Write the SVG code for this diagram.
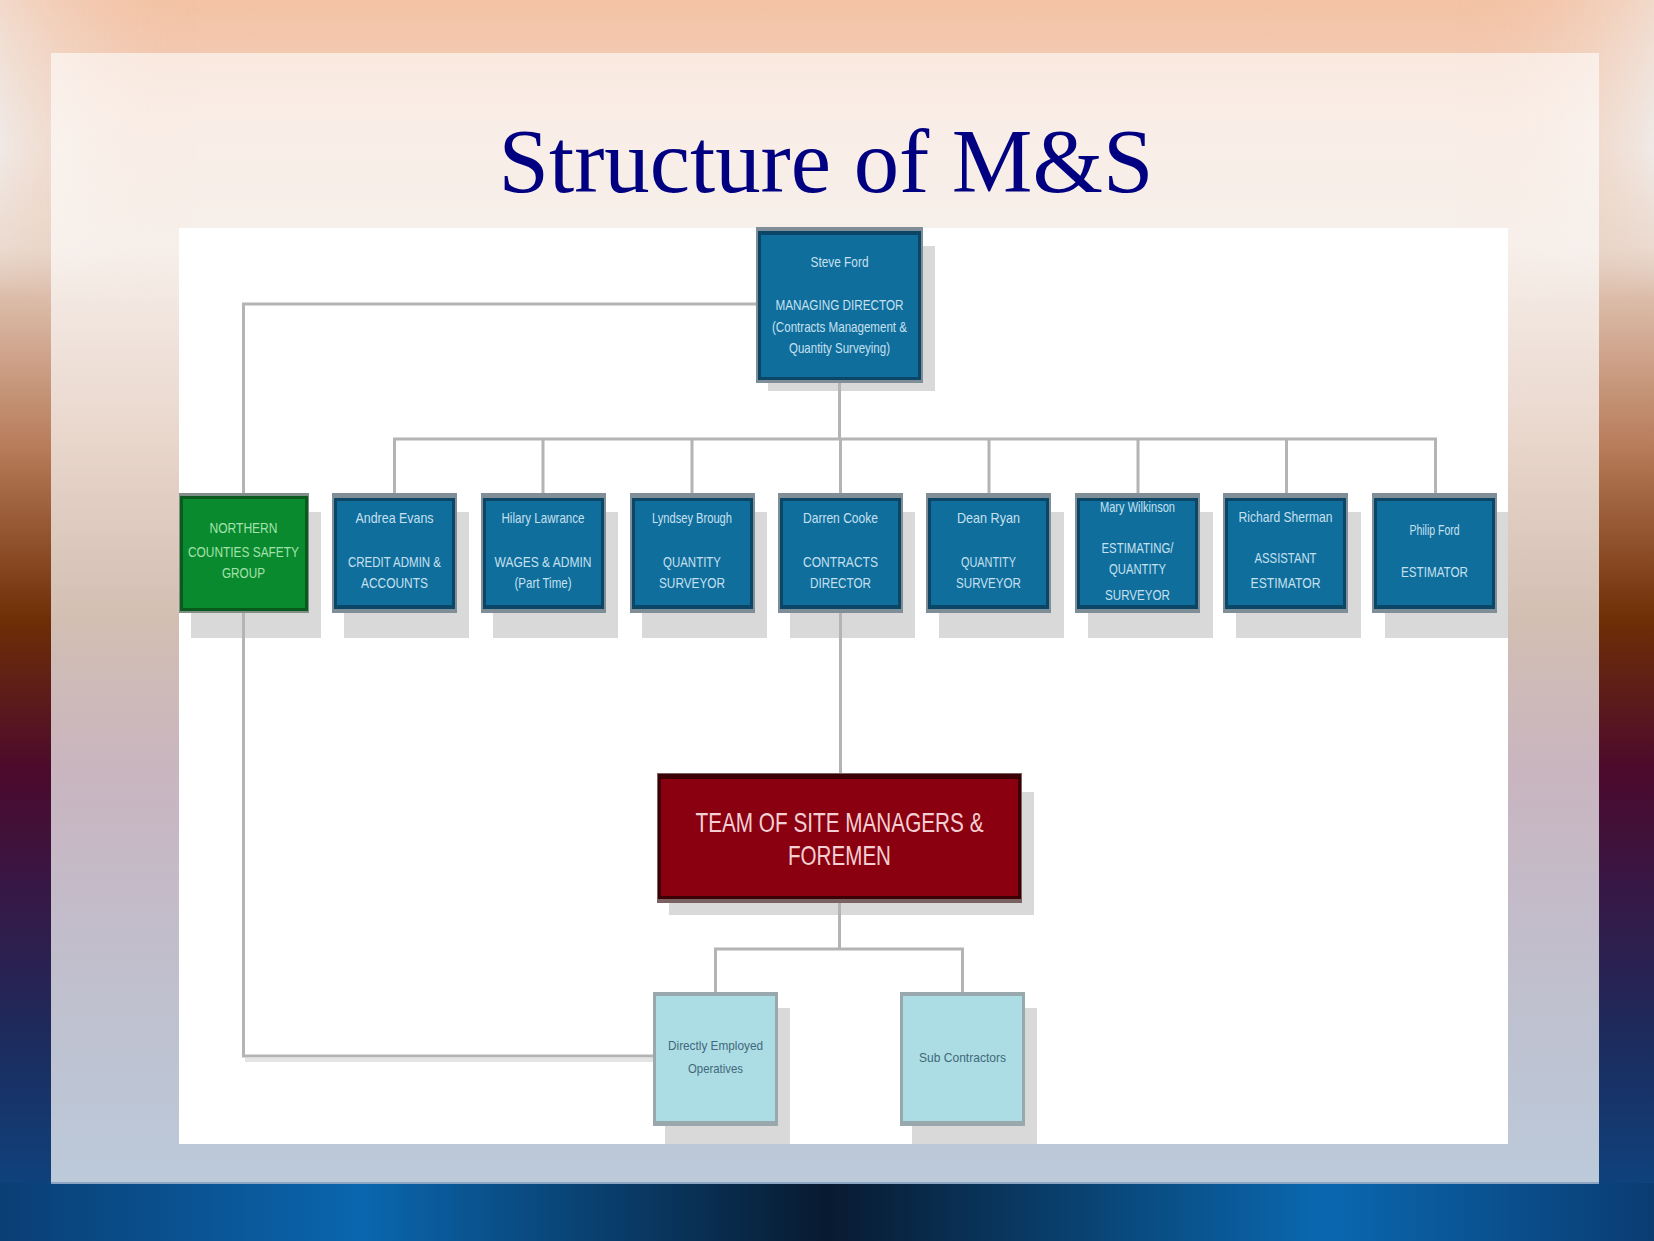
<svg xmlns="http://www.w3.org/2000/svg" width="1654" height="1241" viewBox="0 0 1654 1241">
<defs>
<linearGradient id="bg" x1="0" y1="0" x2="0" y2="1">
<stop offset="0" stop-color="#f4c2a4"/>
<stop offset="0.1" stop-color="#f0d2c0"/>
<stop offset="0.2" stop-color="#e8d2c4"/>
<stop offset="0.36" stop-color="#b87c5a"/>
<stop offset="0.5" stop-color="#6e2e06"/>
<stop offset="0.62" stop-color="#4c0a2c"/>
<stop offset="0.72" stop-color="#361846"/>
<stop offset="0.84" stop-color="#1c2c5e"/>
<stop offset="1" stop-color="#0a4a88"/>
</linearGradient>
<linearGradient id="bottomband" x1="0" y1="0" x2="1" y2="0">
<stop offset="0" stop-color="#0a3e74"/>
<stop offset="0.22" stop-color="#0a66ae"/>
<stop offset="0.5" stop-color="#081a30"/>
<stop offset="0.8" stop-color="#0a68b0"/>
<stop offset="1" stop-color="#0a3c72"/>
</linearGradient>
<linearGradient id="topglow" x1="0" y1="0" x2="1" y2="0">
<stop offset="0" stop-color="#f0ecea" stop-opacity="0.9"/>
<stop offset="0.12" stop-color="#f4c4a6" stop-opacity="0"/>
<stop offset="0.88" stop-color="#f4c4a6" stop-opacity="0"/>
<stop offset="1" stop-color="#f0ecea" stop-opacity="0.9"/>
</linearGradient>
<linearGradient id="fadeV" x1="0" y1="0" x2="0" y2="1">
<stop offset="0" stop-color="#ffffff" stop-opacity="0.6"/>
<stop offset="0.5" stop-color="#ffffff" stop-opacity="1"/>
<stop offset="1" stop-color="#ffffff" stop-opacity="0"/>
</linearGradient>
<mask id="glowMask" maskUnits="userSpaceOnUse" x="0" y="0" width="1654" height="300">
<rect x="0" y="0" width="1654" height="300" fill="url(#fadeV)"/>
</mask>
<linearGradient id="panel" x1="0" y1="0" x2="0" y2="1">
<stop offset="0" stop-color="#ffffff" stop-opacity="0.6"/>
<stop offset="0.3" stop-color="#ffffff" stop-opacity="0.68"/>
<stop offset="1" stop-color="#ffffff" stop-opacity="0.72"/>
</linearGradient>
<style>
.conn{fill:none;stroke:#b4b4b4;stroke-width:3}
.shadow{fill:#d9d9d9}
.frameB{fill:#7f8e97}
.edgeB{fill:#0b4666}
.fillB{fill:#0f6e9c}
.tB{fill:#c6e0f0;font-family:"Liberation Sans",Arial,sans-serif;font-size:15px;text-anchor:middle}
.tG{fill:#a4e2ac;font-family:"Liberation Sans",Arial,sans-serif;font-size:15px;text-anchor:middle}
.tR{fill:#f4cfd3;font-family:"Liberation Sans",Arial,sans-serif;font-size:28px;text-anchor:middle}
.tL{fill:#43687a;font-family:"Liberation Sans",Arial,sans-serif;font-size:13px;text-anchor:middle}
.title{fill:#000080;font-family:"Liberation Serif","Times New Roman",serif;font-size:90px;text-anchor:middle}
</style>
</defs>

<!-- background -->
<rect x="0" y="0" width="1654" height="1241" fill="url(#bg)"/>
<rect x="0" y="0" width="1654" height="300" fill="url(#topglow)" mask="url(#glowMask)"/>
<rect x="0" y="1183" width="1654" height="58" fill="url(#bottomband)"/>
<rect x="51" y="53" width="1548" height="1130" fill="url(#panel)"/>
<line x1="51" y1="1183" x2="1599" y2="1183" stroke="#8aa4c4" stroke-width="2"/>

<text class="title" x="826" y="192" textLength="655" lengthAdjust="spacingAndGlyphs">Structure of M&amp;S</text>

<!-- chart canvas -->
<rect x="179" y="228" width="1329" height="916" fill="#ffffff"/>

<!-- shadows -->
<g id="shadows">
<rect class="shadow" x="768" y="246" width="167" height="145"/>
<rect class="shadow" x="191" y="512" width="130" height="126"/>
<rect class="shadow" x="344" y="512" width="125" height="126"/>
<rect class="shadow" x="493" y="512" width="125" height="126"/>
<rect class="shadow" x="642" y="512" width="125" height="126"/>
<rect class="shadow" x="790" y="512" width="125" height="126"/>
<rect class="shadow" x="939" y="512" width="125" height="126"/>
<rect class="shadow" x="1088" y="512" width="125" height="126"/>
<rect class="shadow" x="1236" y="512" width="125" height="126"/>
<rect class="shadow" x="1385" y="512" width="123" height="126"/>
<rect class="shadow" x="669" y="792" width="365" height="123"/>
<rect class="shadow" x="665" y="1008" width="125" height="136"/>
<rect class="shadow" x="912" y="1008" width="125" height="136"/>
</g>

<!-- connectors -->
<g id="connectors">
<path class="conn" d="M839.5 383 V439"/>
<path class="conn" d="M394.5 493 V439 H1435.5 V493"/>
<path class="conn" d="M543 439 V493 M692 439 V493 M840.5 439 V493 M989 439 V493 M1138 439 V493 M1286.5 439 V493"/>
<path class="conn" d="M756 304 H243.5 V493"/>
<path class="conn" d="M243.5 613 V1056 H653"/>
<path d="M245 1060 H653" stroke="#e4e4e4" stroke-width="4" fill="none"/>
<path class="conn" d="M840.5 613 V773"/>
<path class="conn" d="M839.5 903 V949 M715.5 992 V949 H962.5 V992"/>
</g>

<!-- top node -->
<g id="node-managing-director">
<rect class="frameB" x="756" y="227" width="167" height="156"/>
<rect class="edgeB" x="758" y="231" width="163" height="149"/>
<rect class="fillB" x="761" y="235" width="157" height="142"/>
<text class="tB" x="839.5" y="267" textLength="58" lengthAdjust="spacingAndGlyphs">Steve Ford</text>
<text class="tB" x="839.5" y="310" textLength="128" lengthAdjust="spacingAndGlyphs">MANAGING DIRECTOR</text>
<text class="tB" x="839.5" y="332" textLength="135" lengthAdjust="spacingAndGlyphs">(Contracts Management &amp;</text>
<text class="tB" x="839.5" y="353" textLength="101" lengthAdjust="spacingAndGlyphs">Quantity Surveying)</text>
</g>

<!-- green node -->
<g id="node-safety-group">
<rect x="179" y="493" width="130" height="120" fill="#7f8f88"/>
<rect x="180" y="496" width="128" height="115" fill="#0a5a1e"/>
<rect x="183" y="499" width="122" height="109" fill="#0a8a2e"/>
<text class="tG" x="243.5" y="533" textLength="68" lengthAdjust="spacingAndGlyphs">NORTHERN</text>
<text class="tG" x="243.5" y="557" textLength="111" lengthAdjust="spacingAndGlyphs">COUNTIES SAFETY</text>
<text class="tG" x="243.5" y="578" textLength="43" lengthAdjust="spacingAndGlyphs">GROUP</text>
</g>

<g id="node-accounts">
<rect class="frameB" x="332" y="493" width="125" height="120"/>
<rect class="edgeB" x="334" y="498" width="121" height="111"/>
<rect class="fillB" x="337" y="501" width="115" height="104"/>
<text class="tB" x="394.5" y="523" textLength="78" lengthAdjust="spacingAndGlyphs">Andrea Evans</text>
<text class="tB" x="394.5" y="567" textLength="93" lengthAdjust="spacingAndGlyphs">CREDIT ADMIN &amp;</text>
<text class="tB" x="394.5" y="588" textLength="67" lengthAdjust="spacingAndGlyphs">ACCOUNTS</text>
</g>

<g id="node-wages">
<rect class="frameB" x="481" y="493" width="125" height="120"/>
<rect class="edgeB" x="483" y="498" width="121" height="111"/>
<rect class="fillB" x="486" y="501" width="115" height="104"/>
<text class="tB" x="543" y="523" textLength="83" lengthAdjust="spacingAndGlyphs">Hilary Lawrance</text>
<text class="tB" x="543" y="567" textLength="97" lengthAdjust="spacingAndGlyphs">WAGES &amp; ADMIN</text>
<text class="tB" x="543" y="588" textLength="57" lengthAdjust="spacingAndGlyphs">(Part Time)</text>
</g>

<g id="node-qs1">
<rect class="frameB" x="630" y="493" width="125" height="120"/>
<rect class="edgeB" x="632" y="498" width="121" height="111"/>
<rect class="fillB" x="635" y="501" width="115" height="104"/>
<text class="tB" x="692" y="523" textLength="80" lengthAdjust="spacingAndGlyphs">Lyndsey Brough</text>
<text class="tB" x="692" y="567" textLength="58" lengthAdjust="spacingAndGlyphs">QUANTITY</text>
<text class="tB" x="692" y="588" textLength="66" lengthAdjust="spacingAndGlyphs">SURVEYOR</text>
</g>

<g id="node-contracts-director">
<rect class="frameB" x="778" y="493" width="125" height="120"/>
<rect class="edgeB" x="780" y="498" width="121" height="111"/>
<rect class="fillB" x="783" y="501" width="115" height="104"/>
<text class="tB" x="840.5" y="523" textLength="75" lengthAdjust="spacingAndGlyphs">Darren Cooke</text>
<text class="tB" x="840.5" y="567" textLength="75" lengthAdjust="spacingAndGlyphs">CONTRACTS</text>
<text class="tB" x="840.5" y="588" textLength="61" lengthAdjust="spacingAndGlyphs">DIRECTOR</text>
</g>

<g id="node-qs2">
<rect class="frameB" x="926" y="493" width="125" height="120"/>
<rect class="edgeB" x="928" y="498" width="121" height="111"/>
<rect class="fillB" x="931" y="501" width="115" height="104"/>
<text class="tB" x="988.5" y="523" textLength="63" lengthAdjust="spacingAndGlyphs">Dean Ryan</text>
<text class="tB" x="988.5" y="567" textLength="55" lengthAdjust="spacingAndGlyphs">QUANTITY</text>
<text class="tB" x="988.5" y="588" textLength="65" lengthAdjust="spacingAndGlyphs">SURVEYOR</text>
</g>

<g id="node-estimating-qs">
<rect class="frameB" x="1075" y="493" width="125" height="120"/>
<rect class="edgeB" x="1077" y="498" width="121" height="111"/>
<rect class="fillB" x="1080" y="501" width="115" height="104"/>
<text class="tB" x="1137.5" y="512" textLength="75" lengthAdjust="spacingAndGlyphs">Mary Wilkinson</text>
<text class="tB" x="1137.5" y="553" textLength="72" lengthAdjust="spacingAndGlyphs">ESTIMATING/</text>
<text class="tB" x="1137.5" y="574" textLength="57" lengthAdjust="spacingAndGlyphs">QUANTITY</text>
<text class="tB" x="1137.5" y="600" textLength="65" lengthAdjust="spacingAndGlyphs">SURVEYOR</text>
</g>

<g id="node-assistant-estimator">
<rect class="frameB" x="1223" y="493" width="125" height="120"/>
<rect class="edgeB" x="1225" y="498" width="121" height="111"/>
<rect class="fillB" x="1228" y="501" width="115" height="104"/>
<text class="tB" x="1285.5" y="522" textLength="94" lengthAdjust="spacingAndGlyphs">Richard Sherman</text>
<text class="tB" x="1285.5" y="563" textLength="62" lengthAdjust="spacingAndGlyphs">ASSISTANT</text>
<text class="tB" x="1285.5" y="588" textLength="70" lengthAdjust="spacingAndGlyphs">ESTIMATOR</text>
</g>

<g id="node-estimator">
<rect class="frameB" x="1372" y="493" width="125" height="120"/>
<rect class="edgeB" x="1374" y="498" width="121" height="111"/>
<rect class="fillB" x="1377" y="501" width="115" height="104"/>
<text class="tB" x="1434.5" y="535" textLength="50" lengthAdjust="spacingAndGlyphs">Philip Ford</text>
<text class="tB" x="1434.5" y="577" textLength="67" lengthAdjust="spacingAndGlyphs">ESTIMATOR</text>
</g>

<!-- red node -->
<g id="node-site-managers">
<rect x="657" y="773" width="365" height="130" fill="#7a6262"/>
<rect x="658" y="774" width="363" height="125" fill="#3a0006"/>
<rect x="661" y="779" width="357" height="117" fill="#8a0010"/>
<text class="tR" x="839.5" y="832" textLength="288" lengthAdjust="spacingAndGlyphs">TEAM OF SITE MANAGERS &amp;</text>
<text class="tR" x="839.5" y="865" textLength="103" lengthAdjust="spacingAndGlyphs">FOREMEN</text>
</g>

<!-- light nodes -->
<g id="node-operatives">
<rect x="653" y="992" width="125" height="134" fill="#98a8ac"/>
<rect x="656" y="996" width="119" height="125" fill="#acdde4"/>
<text class="tL" x="715.5" y="1050" textLength="95" lengthAdjust="spacingAndGlyphs">Directly Employed</text>
<text class="tL" x="715.5" y="1073" textLength="55" lengthAdjust="spacingAndGlyphs">Operatives</text>
</g>

<g id="node-subcontractors">
<rect x="900" y="992" width="125" height="134" fill="#98a8ac"/>
<rect x="903" y="996" width="119" height="125" fill="#acdde4"/>
<text class="tL" x="962.5" y="1062" textLength="87" lengthAdjust="spacingAndGlyphs">Sub Contractors</text>
</g>
</svg>
